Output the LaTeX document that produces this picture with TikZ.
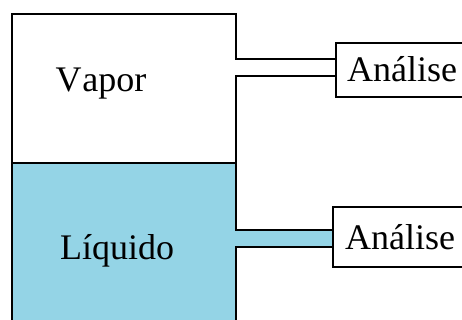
\documentclass[tikz,border=0pt]{standalone}
\usepackage{fontspec}
\setmainfont{Liberation Serif}
\definecolor{liq}{HTML}{94D4E6}
\tikzset{
  wall/.style={line width=2pt, line join=miter},
  lbl/.style={font=\fontsize{36}{40}\selectfont, inner sep=0pt, anchor=base},
  abox/.style={draw, line width=2pt, fill=white, anchor=north west, minimum width=150pt, inner sep=0pt, outer sep=0pt}
}
\begin{document}
\begin{tikzpicture}[x=1pt,y=1pt]
\useasboundingbox (0,0) rectangle (462,320);
\clip (0,0) rectangle (462,320);
% fills
\fill[liq] (12,-10) rectangle (236,157);
\fill[liq] (236,73) rectangle (334,90);
% analysis boxes
\node[abox, minimum height=54pt] (bv) at (336,277) {};
\node[abox, minimum height=60pt] (bl) at (333,113) {};
% pipe attachment points
\coordinate (vt) at (bv.north west |- 0,261);
\coordinate (vb) at (bv.north west |- 0,244);
\coordinate (lt) at (bl.north west |- 0,90);
\coordinate (lb) at (bl.north west |- 0,73);
% tank walls and pipes
\draw[wall] (12,-10) -- (12,306) -- (236,306) -- (236,261) -- (vt);
\draw[wall] (vb) -- (236,244) -- (236,90) -- (lt);
\draw[wall] (lb) -- (236,73) -- (236,-10);
\draw[wall] (12,157) -- (236,157);
% labels
\node[lbl] (vap) at (101,228) {V\kern1pt apor};
\node[lbl] (liqt) at (117,60) {Líquido};
\node[lbl, anchor=base west] (av) at (347,238) {Análise};
\node[lbl, anchor=base west] (al) at (345,70) {Análise};
\end{tikzpicture}
\end{document}
